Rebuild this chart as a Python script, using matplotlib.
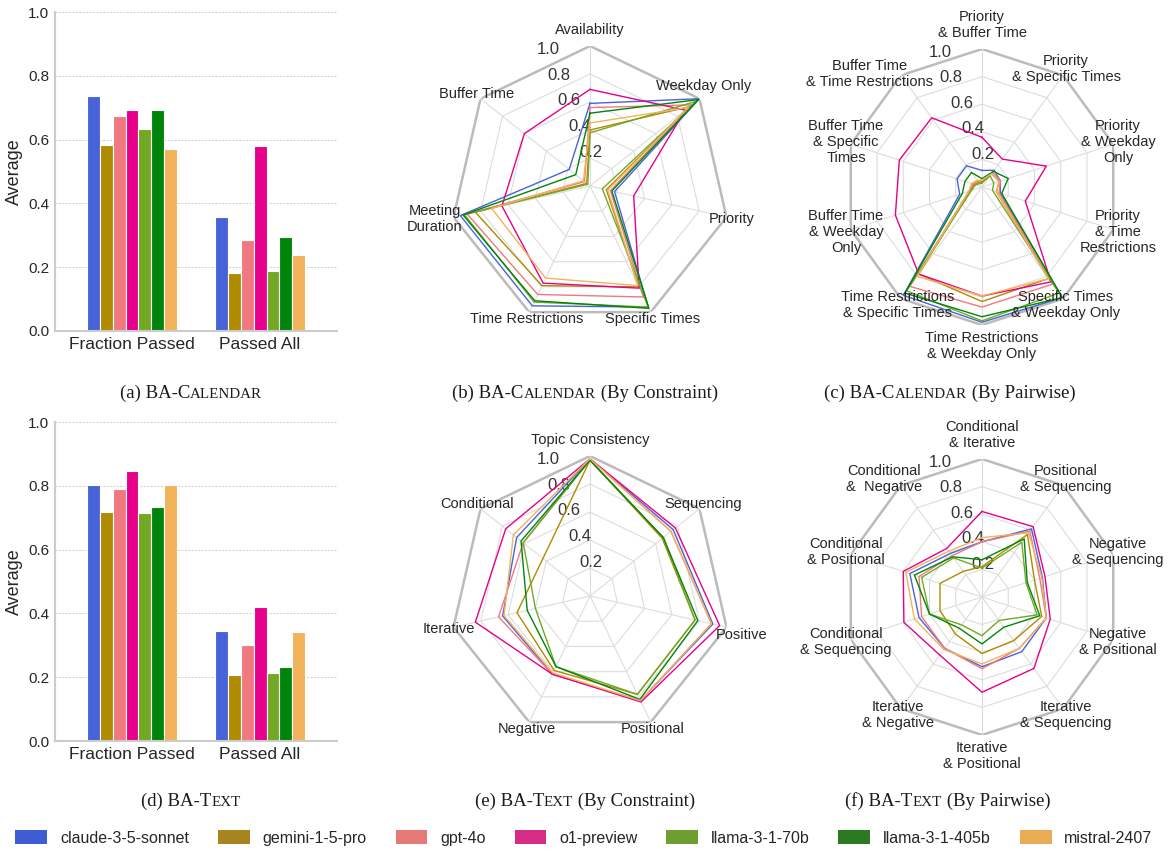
import numpy as np
import matplotlib
matplotlib.use("Agg")
import matplotlib.pyplot as plt
from matplotlib.patches import Patch
from matplotlib.transforms import ScaledTranslation

plt.rcParams['font.family'] = ['Liberation Sans', 'DejaVu Sans']
plt.rcParams['text.color'] = '#262626'
plt.rcParams['axes.labelcolor'] = '#262626'
plt.rcParams['xtick.color'] = '#262626'
plt.rcParams['ytick.color'] = '#262626'

models = ['claude-3-5-sonnet', 'gemini-1-5-pro', 'gpt-4o', 'o1-preview',
          'llama-3-1-70b', 'llama-3-1-405b', 'mistral-2407']
colors = ['#4863D8', '#B08A00', '#F07880', '#E6008C', '#73A823', '#00850A', '#F2B35A']
legend_colors = ['#3E5DD2', '#A8841E', '#E67878', '#D62C86', '#6D9E2F', '#2A7A1F', '#E9AC55']

bar_groups = ['Fraction Passed', 'Passed All']

# BA-Calendar bars
cal_fraction = [0.738, 0.584, 0.674, 0.692, 0.632, 0.694, 0.569]
cal_passed_all = [0.358, 0.182, 0.286, 0.579, 0.188, 0.296, 0.237]
# BA-Text bars
text_fraction = [0.801, 0.717, 0.790, 0.846, 0.714, 0.735, 0.801]
text_passed_all = [0.344, 0.207, 0.302, 0.419, 0.214, 0.232, 0.341]

# BA-Calendar by constraint (counter-clockwise from top)
cal_constraints = ['Availability', 'Buffer Time', 'Meeting\nDuration', 'Time Restrictions',
                   'Specific Times', 'Priority', 'Weekday Only']
cal_constraint_vals = {
    'claude-3-5-sonnet': [0.59, 0.19, 0.95, 0.95, 0.96, 0.18, 1.00],
    'gemini-1-5-pro':    [0.40, 0.03, 0.84, 0.79, 0.80, 0.12, 0.91],
    'gpt-4o':            [0.56, 0.05, 0.90, 0.86, 0.88, 0.15, 0.93],
    'o1-preview':        [0.69, 0.60, 0.645, 0.77, 0.81, 0.32, 0.87],
    'llama-3-1-70b':     [0.38, 0.02, 0.92, 0.92, 0.96, 0.09, 0.97],
    'llama-3-1-405b':    [0.52, 0.13, 0.93, 0.91, 0.97, 0.16, 0.99],
    'mistral-2407':      [0.45, 0.06, 0.72, 0.73, 0.79, 0.13, 0.90],
}

# BA-Calendar pairwise
cal_pairs = ['Priority\n& Buffer Time', 'Buffer Time\n& Time Restrictions',
             'Buffer Time\n& Specific\nTimes', 'Buffer Time\n& Weekday\nOnly',
             'Time Restrictions\n& Specific Times', 'Time Restrictions\n& Weekday Only',
             'Specific Times\n& Weekday Only', 'Priority\n& Time\nRestrictions',
             'Priority\n& Weekday\nOnly', 'Priority\n& Specific Times']
cal_pair_vals = {
    'claude-3-5-sonnet': [0.12, 0.19, 0.19, 0.17, 0.97, 0.98, 0.99, 0.14, 0.14, 0.15],
    'gemini-1-5-pro':    [0.04, 0.04, 0.06, 0.09, 0.78, 0.83, 0.82, 0.11, 0.13, 0.12],
    'gpt-4o':            [0.05, 0.05, 0.07, 0.10, 0.89, 0.87, 0.87, 0.13, 0.14, 0.13],
    'o1-preview':        [0.36, 0.62, 0.63, 0.66, 0.78, 0.79, 0.85, 0.33, 0.49, 0.25],
    'llama-3-1-70b':     [0.03, 0.03, 0.05, 0.08, 0.93, 0.97, 0.95, 0.08, 0.09, 0.10],
    'llama-3-1-405b':    [0.06, 0.13, 0.13, 0.15, 0.95, 0.94, 0.99, 0.15, 0.20, 0.14],
    'mistral-2407':      [0.05, 0.06, 0.08, 0.10, 0.80, 0.79, 0.82, 0.11, 0.13, 0.12],
}

# BA-Text by constraint
text_constraints = ['Topic Consistency', 'Conditional', 'Iterative', 'Negative',
                    'Positional', 'Positive', 'Sequencing']
text_constraint_vals = {
    'claude-3-5-sonnet': [0.98, 0.67, 0.64, 0.62, 0.83, 0.90, 0.76],
    'gemini-1-5-pro':    [0.97, 0.43, 0.535, 0.59, 0.78, 0.77, 0.66],
    'gpt-4o':            [0.98, 0.61, 0.67, 0.62, 0.83, 0.89, 0.74],
    'o1-preview':        [0.98, 0.77, 0.84, 0.62, 0.84, 0.95, 0.78],
    'llama-3-1-70b':     [0.97, 0.61, 0.40, 0.56, 0.78, 0.77, 0.67],
    'llama-3-1-405b':    [0.97, 0.63, 0.46, 0.56, 0.82, 0.79, 0.67],
    'mistral-2407':      [0.98, 0.70, 0.63, 0.61, 0.83, 0.89, 0.74],
}

# BA-Text pairwise
text_pairs = ['Conditional\n& Iterative', 'Conditional\n&  Negative', 'Conditional\n& Positional',
              'Conditional\n& Sequencing', 'Iterative\n& Negative', 'Iterative\n& Positional',
              'Iterative\n& Sequencing', 'Negative\n& Positional', 'Negative\n& Sequencing',
              'Positional\n& Sequencing']
text_pair_vals = {
    'claude-3-5-sonnet': [0.40, 0.39, 0.55, 0.48, 0.46, 0.505, 0.49, 0.49, 0.46, 0.61],
    'gemini-1-5-pro':    [0.22, 0.23, 0.32, 0.32, 0.33, 0.41, 0.39, 0.455, 0.40, 0.56],
    'gpt-4o':            [0.40, 0.37, 0.48, 0.46, 0.46, 0.52, 0.46, 0.49, 0.44, 0.59],
    'o1-preview':        [0.62, 0.435, 0.60, 0.595, 0.52, 0.69, 0.64, 0.52, 0.48, 0.63],
    'llama-3-1-70b':     [0.21, 0.35, 0.46, 0.40, 0.25, 0.28, 0.21, 0.42, 0.335, 0.49],
    'llama-3-1-405b':    [0.27, 0.36, 0.515, 0.40, 0.28, 0.34, 0.27, 0.44, 0.345, 0.52],
    'mistral-2407':      [0.43, 0.41, 0.58, 0.515, 0.47, 0.485, 0.46, 0.49, 0.455, 0.575],
}

W, H = 1168, 855
fig = plt.figure(figsize=(W / 100, H / 100), dpi=100)


def px_rect(left, top, right, bottom):
    return [left / W, 1 - bottom / H, (right - left) / W, (bottom - top) / H]


def bar_panel(rect, frac, passed):
    ax = fig.add_axes(rect)
    x = np.arange(len(bar_groups))
    for i, m in enumerate(models):
        ax.bar(x + (i - 3) * 0.1, [frac[i], passed[i]], width=0.1, color=colors[i],
               edgecolor='white', linewidth=0.8, zorder=2)
    ax.set_xlim(-0.6, 1.6)
    ax.set_ylim(0, 1)
    ax.set_yticks(np.arange(0, 1.01, 0.2))
    ax.set_yticklabels(['%.1f' % v for v in np.arange(0, 1.01, 0.2)], fontsize=11)
    ax.set_xticks(x)
    ax.set_xticklabels(bar_groups, fontsize=12.5)
    ax.tick_params(length=0, pad=4)
    ax.set_ylabel('Average', fontsize=13)
    ax.grid(axis='y', color='#CCCCCC', linestyle=(0, (2, 1.5)), linewidth=0.7, zorder=0)
    for s in ['top', 'right']:
        ax.spines[s].set_visible(False)
    for s in ['left', 'bottom']:
        ax.spines[s].set_color('#CCCCCC')
        ax.spines[s].set_linewidth(1.5)
    return ax


def radar_panel(cx, cy, r, labels, vals, nudge=None):
    nudge = nudge or {}
    ax = fig.add_axes(px_rect(cx - r, cy - r, cx + r, cy + r), projection='polar')
    n = len(labels)
    ang = np.linspace(0, 2 * np.pi, n, endpoint=False)
    closed = np.concatenate([ang, ang[:1]])
    ax.set_theta_zero_location('N')
    ax.grid(False)
    ax.spines['polar'].set_visible(False)
    for lev in [0.2, 0.4, 0.6, 0.8]:
        ax.plot(closed, [lev] * (n + 1), color='#DDDDDD', lw=0.8, zorder=0)
    ax.plot(closed, [1.0] * (n + 1), color='#BBBBBB', lw=1.8, zorder=0)
    for a in ang:
        ax.plot([a, a], [0, 1], color='#DDDDDD', lw=0.8, zorder=0)
    for i, m in enumerate(models):
        v = vals[m]
        ax.plot(closed, v + v[:1], color=colors[i], lw=1.0, zorder=3)
    ax.set_ylim(0, 1)
    ax.set_yticks([0.2, 0.4, 0.6, 0.8, 1.0])
    ax.set_yticklabels(['0.2', '0.4', '0.6', '0.8', '1.0'], fontsize=12, color='#333333')
    ax.set_rlabel_position(22.5)
    ax.set_xticks(ang)
    ax.set_xticklabels([])
    # category labels: roughly centred on each vertex, pushed out up/down
    for k, (a, lab) in enumerate(zip(ang, labels)):
        dx, dy = -np.sin(a), np.cos(a)
        h = 16 * (lab.count('\n') + 1)
        if dy > 0.95:
            oy = h / 2 + 8
        elif dy < -0.95:
            oy = -(h / 2 + 5)
        else:
            oy = dy * 8
        ox = dx * 5
        ex, ey = nudge.get(k, (0, 0))
        tr = ax.transData + ScaledTranslation((ox + ex) / 100, (oy + ey) / 100,
                                              fig.dpi_scale_trans)
        ax.text(a, 1.0, lab, transform=tr, ha='center', va='center', fontsize=10.5,
                clip_on=False)
    return ax


def caption(xc, y, parts):
    rend = fig.canvas.get_renderer()
    texts = [fig.text(0, y, s, fontsize=sz, family=['Liberation Serif'], va='baseline',
                      color='#1a1a1a') for s, sz in parts]
    widths = [t.get_window_extent(rend).width for t in texts]
    x = xc - sum(widths) / 2
    for t, w in zip(texts, widths):
        t.set_x(x / W)
        x += w


bar_panel(px_rect(55, 12, 337, 331), cal_fraction, cal_passed_all)
bar_panel(px_rect(55, 422, 337, 741), text_fraction, text_passed_all)
radar_panel(590, 186, 140, cal_constraints, cal_constraint_vals,
            nudge={2: (-14, 0), 6: (0, 8)})
radar_panel(982, 187, 138, cal_pairs, cal_pair_vals, nudge={1: (-28, -5)})
radar_panel(590, 596, 140, text_constraints, text_constraint_vals, nudge={5: (10, -6)})
radar_panel(982, 597, 138, text_pairs, text_pair_vals, nudge={1: (-14, 0)})

big, small = 13.5, 10.8
ytop = 1 - 398 / H
ybot = 1 - 806 / H
caption(191, ytop, [('(a) BA-C', big), ('ALENDAR', small)])
caption(585, ytop, [('(b) BA-C', big), ('ALENDAR', small), (' (By Constraint)', big)])
caption(950, ytop, [('(c) BA-C', big), ('ALENDAR', small), (' (By Pairwise)', big)])
caption(191, ybot, [('(d) BA-T', big), ('EXT', small)])
caption(585, ybot, [('(e) BA-T', big), ('EXT', small), (' (By Constraint)', big)])
caption(948, ybot, [('(f) BA-T', big), ('EXT', small), (' (By Pairwise)', big)])

handles = [Patch(facecolor=c, edgecolor='none', label=m) for m, c in zip(models, legend_colors)]
fig.legend(handles=handles, loc='center', bbox_to_anchor=(0.5, 1 - 838 / H), ncol=7,
           frameon=False, fontsize=11.5, handlelength=2.0, handleheight=1.0,
           handletextpad=0.8, columnspacing=1.8)

fig.savefig('out.png', dpi=100)
